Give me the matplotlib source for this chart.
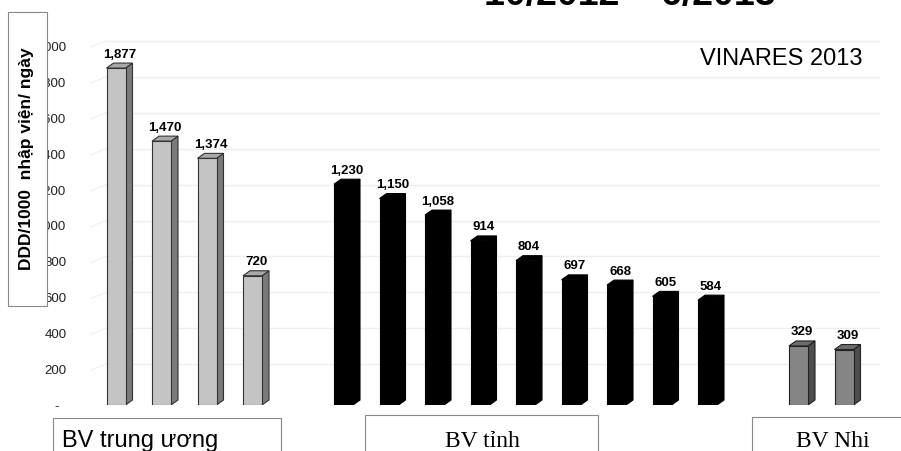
import matplotlib
matplotlib.use("Agg")
import matplotlib.pyplot as plt
from matplotlib.patches import Polygon, Rectangle

plt.rcParams['font.family'] = ['Liberation Sans', 'DejaVu Sans']

# Hospital groups and their DDD/1000 admission-day values
central_values = [1877, 1470, 1374, 720]
provincial_values = [1230, 1150, 1058, 914, 804, 697, 668, 605, 584]
pediatric_values = [329, 309]

y_ticks = [0, 200, 400, 600, 800, 1000, 1200, 1400, 1600, 1800, 2000]
y_tick_labels = ['-  ', '200', '400', '600', '800', '1,000', '1,200', '1,400',
                 '1,600', '1,800', '2,000']

group_names = ['BV trung ương', 'BV tỉnh', 'BV Nhi']
title_text = '10/2012 – 6/2013'
source_text = 'VINARES 2013'
y_label = 'DDD/1000  nhập viện/ ngày'

W, H = 901, 451
fig = plt.figure(figsize=(W / 100, H / 100), dpi=100)
fig.patch.set_facecolor('white')


def fx(px):
    return px / W


def fy(py):
    return 1 - py / H


# Axes: slot 0 centred at x=116 px, 45.5 px per slot; value 0 at y=405 px
px_per_slot = 45.5
x_left_px, x_right_px = 90, 880
x0 = (x_left_px - 116) / px_per_slot
x1 = (x_right_px - 116) / px_per_slot
ymax = 2100
px_per_unit = 0.1795
y_top_px = 405 - ymax * px_per_unit
ax = fig.add_axes([fx(x_left_px), fy(405), fx(x_right_px - x_left_px),
                   (405 - y_top_px) / H])
ax.set_xlim(x0, x1)
ax.set_ylim(0, ymax)
for s in ax.spines.values():
    s.set_visible(False)
ax.set_xticks([])
ax.set_yticks(y_ticks)
ax.set_yticklabels(y_tick_labels, fontsize=9.5, color='#222222')
ax.tick_params(axis='y', length=0, pad=17)

# faint back-wall gridlines
depth_dx = 7 / px_per_slot
depth_dy = 5 / px_per_unit
for t in y_ticks[1:]:
    ax.plot([x0 + 0.35, x1], [t + depth_dy, t + depth_dy], color='#eeeeee',
            lw=1.0, zorder=0)
    ax.plot([x0, x0 + 0.35], [t - 8, t + depth_dy], color='#f2f2f2',
            lw=1.0, zorder=0)

bar_w = 19 / px_per_slot

groups = [
    (0, central_values, '#c4c4c4', '#7a7a7a', '#a8a8a8', '#333333'),
    (5, provincial_values, '#000000', '#000000', '#000000', '#000000'),
    (15, pediatric_values, '#858585', '#4e4e4e', '#6c6c6c', '#222222'),
]

for start, vals, front, side, top, edge in groups:
    xs = [start + i for i in range(len(vals))]
    bars = ax.bar(xs, vals, width=bar_w, color=front, edgecolor=edge,
                  linewidth=0.8, zorder=3)
    for rect, v in zip(bars, vals):
        xl = rect.get_x()
        xr = xl + rect.get_width()
        side_poly = Polygon([(xr, 0), (xr + depth_dx, depth_dy),
                             (xr + depth_dx, v + depth_dy), (xr, v)],
                            closed=True, facecolor=side, edgecolor=edge,
                            linewidth=0.8, zorder=2)
        top_poly = Polygon([(xl, v), (xl + depth_dx, v + depth_dy),
                            (xr + depth_dx, v + depth_dy), (xr, v)],
                           closed=True, facecolor=top, edgecolor=edge,
                           linewidth=0.8, zorder=2)
        ax.add_patch(side_poly)
        ax.add_patch(top_poly)
        ax.text(rect.get_x() + rect.get_width() / 2 + depth_dx / 2,
                v + depth_dy + 14, f'{v:,}', ha='center', va='bottom',
                fontsize=9.5, fontweight='bold', color='black', zorder=4)

# Source note
fig.text(fx(863), fy(65), source_text, ha='right', va='baseline',
         fontsize=17, color='black')

# Title, partly above the top edge
fig.text(fx(630), fy(5), title_text, ha='center', va='baseline',
         fontsize=27, fontweight='bold', color='black')

# Y-axis label box
fig.patches.append(Rectangle((fx(8), fy(306)), fx(39), (306 - 12) / H,
                             transform=fig.transFigure, facecolor='white',
                             edgecolor='#888888', linewidth=0.8, zorder=5))
fig.text(fx(27), fy(159), y_label, rotation=90, ha='center', va='center',
         fontsize=12.5, fontweight='bold', color='black', zorder=6)

# Group name boxes at the bottom
boxes = [
    (53, 418, 281, group_names[0], 'Liberation Sans', 17, 'left', 62),
    (365, 415, 598, group_names[1], 'Liberation Serif', 17, 'center', 482),
    (752, 417, 905, group_names[2], 'Liberation Serif', 17, 'center', 833),
]
for left, top, right, label, fam, fs, ha, tx in boxes:
    fig.patches.append(Rectangle((fx(left), fy(460)), fx(right - left),
                                 (460 - top) / H, transform=fig.transFigure,
                                 facecolor='white', edgecolor='#888888',
                                 linewidth=0.8, zorder=5))
    fig.text(fx(tx), fy(447), label, ha=ha, va='baseline', fontsize=fs,
             family=fam, color='black', zorder=6)

fig.savefig('out.png', dpi=100, facecolor='white')
